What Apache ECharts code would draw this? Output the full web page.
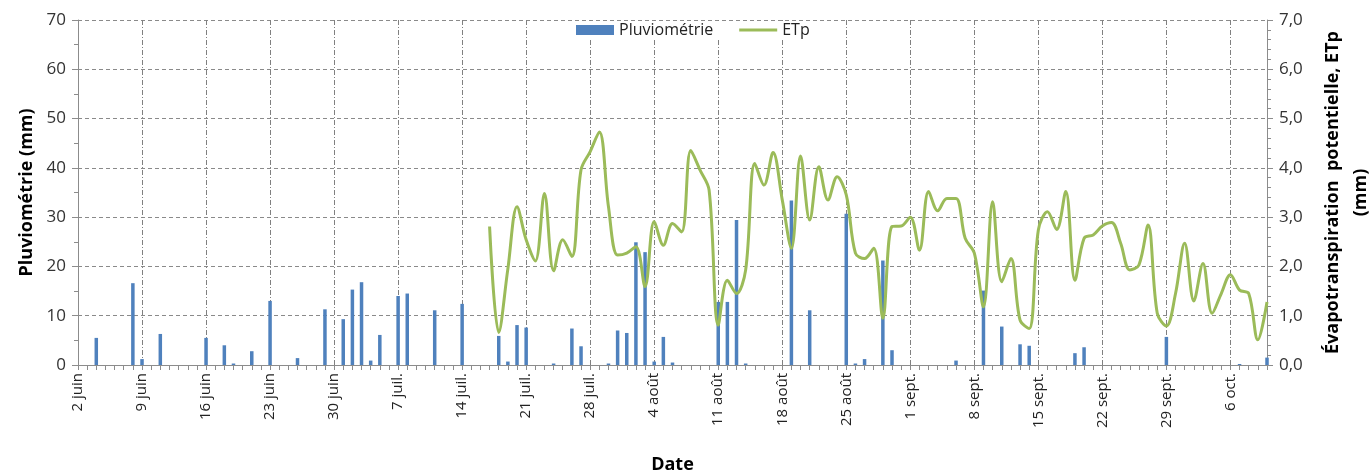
<!DOCTYPE html>
<html>
<head>
<meta charset="utf-8">
<title>Pluviométrie et ETp</title>
<script src="https://cdn.jsdelivr.net/npm/echarts@6/dist/echarts.min.js"></script>
<style>
  html, body { margin: 0; padding: 0; background: #fff; }
  #chart { width: 1372px; height: 472px; }
</style>
</head>
<body>
<div id="chart"></div>
<script>
// one entry per day, from 2 juin (index 0) to 10 oct. (index 130)
const weekLabels = ['2 juin', '9 juin', '16 juin', '23 juin', '30 juin', '7 juil.', '14 juil.',
  '21 juil.', '28 juil.', '4 août', '11 août', '18 août', '25 août', '1 sept.', '8 sept.',
  '15 sept.', '22 sept.', '29 sept.', '6 oct.'];

// pluviométrie (mm), une ligne = une semaine
const rain = [
  0, 0, 5.5, 0, 0, 0, 16.6,
  1.2, 0, 6.3, 0, 0, 0, 0,
  5.5, 0, 4.0, 0.3, 0, 2.8, 0,
  13.0, 0, 0, 1.4, 0, 0, 11.3,
  0, 9.3, 15.3, 16.8, 0.9, 6.1, 0,
  14.0, 14.5, 0, 0, 11.1, 0, 0,
  12.4, 0, 0, 0, 5.9, 0.7, 8.1,
  7.6, 0, 0, 0.3, 0, 7.4, 3.8,
  0, 0, 0.3, 7.0, 6.5, 24.9, 22.9,
  0.7, 5.7, 0.5, 0, 0, 0, 0,
  12.8, 12.8, 29.4, 0.3, 0, 0, 0,
  0, 33.4, 0, 11.1, 0, 0, 0,
  30.7, 0.3, 1.2, 0, 21.2, 3.0, 0,
  0, 0, 0, 0, 0, 0.9, 0,
  0, 15.1, 0, 7.8, 0, 4.2, 3.9,
  0, 0, 0, 0, 2.4, 3.6, 0,
  0, 0, 0, 0, 0, 0, 0,
  5.7, 0, 0, 0, 0, 0, 0,
  0, 0.2, 0, 0, 1.5
];

// ETp (mm), mesurée à partir du 17 juil. (index 45)
const etp = [
  null, null, null, null, null, null, null,
  null, null, null, null, null, null, null,
  null, null, null, null, null, null, null,
  null, null, null, null, null, null, null,
  null, null, null, null, null, null, null,
  null, null, null, null, null, null, null,
  null, null, null, 2.81, 0.66, 1.95, 3.21,
  2.54, 2.11, 3.48, 1.91, 2.54, 2.20, 3.96,
  4.33, 4.73, 3.21, 2.23, 2.27, 2.40, 1.59,
  2.91, 2.43, 2.87, 2.70, 4.35, 3.96, 3.55,
  0.81, 1.72, 1.45, 1.93, 4.09, 3.65, 4.31,
  3.35, 2.37, 4.24, 2.94, 4.02, 3.35, 3.82,
  3.45, 2.27, 2.16, 2.37, 0.95, 2.81, 2.82,
  3.00, 2.33, 3.52, 3.13, 3.38, 3.38, 2.57,
  2.27, 1.18, 3.31, 1.69, 2.16, 0.91, 0.74,
  2.74, 3.11, 2.75, 3.52, 1.72, 2.57, 2.64,
  2.82, 2.89, 2.47, 1.93, 2.03, 2.84, 1.05,
  0.79, 1.45, 2.47, 1.30, 2.06, 1.05, 1.45,
  1.83, 1.52, 1.45, 0.51, 1.28
];

const days = rain.map((v, i) => i);

const font = 'Open Sans';
const chart = echarts.init(document.getElementById('chart'));

chart.setOption({
  animation: false,
  textStyle: { fontFamily: font },
  legend: {
    left: 574,
    top: 21,
    itemWidth: 38,
    itemHeight: 10,
    itemGap: 26,
    padding: [1, 2],
    backgroundColor: '#fff',
    textStyle: { fontSize: 16, color: '#222', fontFamily: font },
    data: [
      { name: 'Pluviométrie', icon: 'rect' },
      // thin line icon (the outer moveTo points keep the bounding box 38x10)
      { name: 'ETp', icon: 'path://M0,0 M38,10 M0,3.5 L38,3.5 L38,6.5 L0,6.5 Z' },
    ],
  },
  grid: { left: 78, right: 105, top: 20, bottom: 107, outerBoundsMode: 'none' },
  xAxis: {
    type: 'category',
    data: days,
    boundaryGap: false,
    name: 'Date',
    nameLocation: 'middle',
    nameGap: 91,
    nameTextStyle: { fontSize: 18, fontWeight: 'bold', color: '#000' },
    axisLine: { lineStyle: { color: '#8c8c8c', width: 1 } },
    axisTick: { interval: 0, length: 5, lineStyle: { color: '#8c8c8c' } },
    axisLabel: {
      rotate: 90,
      margin: 8,
      fontSize: 15,
      color: '#222',
      interval: (i) => i % 7 === 0,
      formatter: (v, i) => weekLabels[i / 7] || '',
    },
    splitLine: {
      show: true,
      interval: (i) => i % 7 === 0 && i > 0,
      lineStyle: { color: '#808080', type: [5, 2, 1, 2], width: 1 },
    },
  },
  yAxis: [
    {
      type: 'value',
      min: 0,
      max: 70,
      interval: 10,
      name: 'Pluviométrie (mm)',
      nameLocation: 'middle',
      nameRotate: 90,
      nameGap: 37,
      nameTextStyle: { fontSize: 18, fontWeight: 'bold', color: '#000' },
      axisLine: { show: true, lineStyle: { color: '#8c8c8c' } },
      axisTick: { show: true, length: 6, lineStyle: { color: '#8c8c8c' } },
      minorTick: { show: true, splitNumber: 2, length: 4, lineStyle: { color: '#8c8c8c' } },
      axisLabel: { fontSize: 17, color: '#333', margin: 12 },
      splitLine: { lineStyle: { color: '#8a8a8a', type: [4, 3] } },
    },
    {
      type: 'value',
      min: 0,
      max: 7,
      interval: 1,
      position: 'right',
      name: 'Évapotranspiration  potentielle, ETp\n(mm)',
      nameLocation: 'middle',
      nameRotate: 90,
      nameGap: 52,
      nameTextStyle: { fontSize: 18, fontWeight: 'bold', color: '#000', lineHeight: 28, align: 'center' },
      axisLine: { show: true, lineStyle: { color: '#8c8c8c' } },
      axisTick: { show: true, length: 6, lineStyle: { color: '#8c8c8c' } },
      minorTick: { show: true, splitNumber: 5, length: 4, lineStyle: { color: '#8c8c8c' } },
      axisLabel: {
        fontSize: 17,
        color: '#333',
        margin: 12,
        formatter: (v) => v.toFixed(1).replace('.', ','),
      },
      splitLine: { show: false },
    },
  ],
  series: [
    {
      name: 'Pluviométrie',
      type: 'bar',
      data: rain,
      barWidth: 3.5,
      itemStyle: { color: '#4f81bd' },
    },
    {
      name: 'ETp',
      type: 'line',
      yAxisIndex: 1,
      data: etp,
      smooth: 0.35,
      symbol: 'none',
      connectNulls: false,
      lineStyle: { color: '#9bbb59', width: 3 },
      itemStyle: { color: '#9bbb59' },
    },
  ],
});
</script>
</body>
</html>
